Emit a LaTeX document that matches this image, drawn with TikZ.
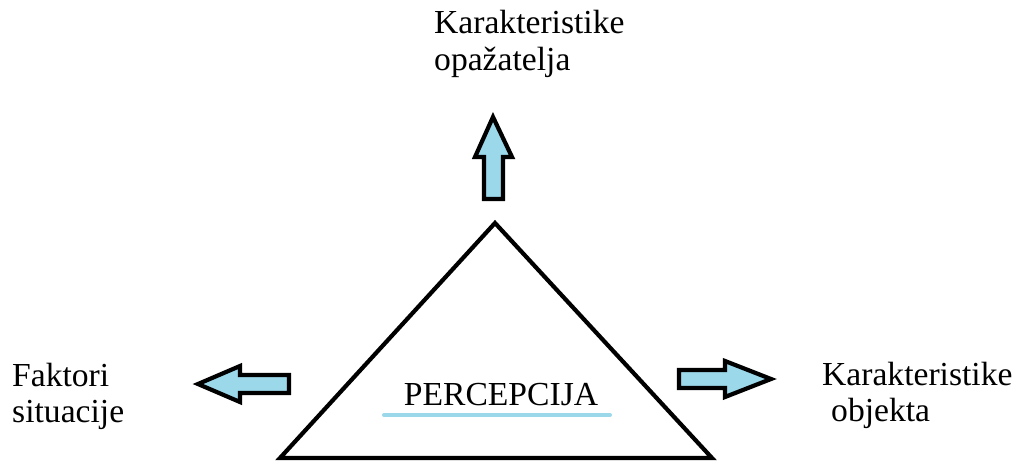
\documentclass[tikz,border=0pt]{standalone}
\usepackage{fontspec}
\setmainfont{Liberation Serif}
\definecolor{arrowblue}{HTML}{9AD8EA}
\tikzset{
  lbl/.style={inner sep=0pt, anchor=base west, font=\fontsize{33.6}{37}\selectfont},
  fatarrow/.style={draw=black, fill=arrowblue, line width=4.2pt, line join=miter},
  tri/.style={draw=black, line width=4.2pt, line join=miter},
}
\begin{document}
\begin{tikzpicture}[x=1pt,y=-1pt]
\useasboundingbox (0,0) rectangle (1017,463);
% triangle
\draw[tri] (495,223) -- (280,458) -- (712,458) -- cycle;
% up arrow
\draw[fatarrow] (493,117) -- (512,157) -- (503,157) -- (503,199) -- (484,199) -- (484,157) -- (475,157) -- cycle;
% left arrow
\draw[fatarrow] (198,384) -- (240,366) -- (240,375) -- (289,375) -- (289,393) -- (240,393) -- (240,402) -- cycle;
% right arrow
\draw[fatarrow] (771,379) -- (725,361) -- (725,370) -- (679,370) -- (679,388) -- (725,388) -- (725,397) -- cycle;
% labels
\node[lbl] (t1) at (434,33) {Karakteristike};
\node[lbl] (t2) at (434,70) {opažatelja};
\node[lbl] (l1) at (12,386) {Faktori};
\node[lbl] (l2) at (12,422) {situacije};
\node[lbl] (r1) at (822,385) {Karakteristike};
\node[lbl] (r2) at (831,421) {objekta};
\node[lbl, anchor=base] (p) at (501,405) {PERCEPCIJA};
\draw[arrowblue, line width=4pt, line cap=round] (384,415) -- (610,415);
\end{tikzpicture}
\end{document}
